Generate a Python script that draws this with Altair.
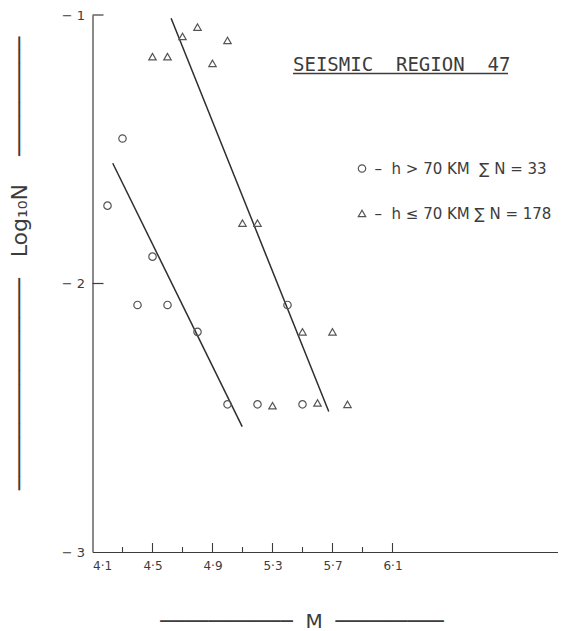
import altair as alt
import pandas as pd

NB = "\u00a0"  # non-collapsing space

# ---- data ----
deep_label = "–" + NB * 2 + "h" + NB + ">" + NB + "70" + NB + "KM" + NB * 2 + "∑" + NB + "N" + NB + "=" + NB + "33"
shallow_label = "–" + NB * 2 + "h" + NB + "≤" + NB + "70" + NB + "KM" + NB + "∑" + NB + "N" + NB + "=" + NB + "178"

deep_M = [4.2, 4.3, 4.4, 4.5, 4.6, 4.8, 5.0, 5.2, 5.4, 5.5]
deep_logN = [-1.71, -1.46, -2.08, -1.90, -2.08, -2.18, -2.45, -2.45, -2.08, -2.45]

shallow_M = [4.5, 4.6, 4.7, 4.8, 4.9, 5.0, 5.1, 5.2, 5.5, 5.7, 5.3, 5.6, 5.8]
shallow_logN = [-1.155, -1.155, -1.08, -1.045, -1.18, -1.095, -1.775, -1.775,
                -2.18, -2.18, -2.455, -2.445, -2.45]

# fitted lines (end points)
deep_fit_M = [4.235, 5.098]
deep_fit_logN = [-1.552, -2.533]
shallow_fit_M = [4.624, 5.675]
shallow_fit_logN = [-1.012, -2.477]

x_major_ticks = [4.5, 4.9, 5.3, 5.7, 6.1]
x_minor_ticks = [4.3, 4.7, 5.1, 5.5, 5.9]
x_labels = [4.1, 4.5, 4.9, 5.3, 5.7, 6.1]
y_labels = [-1, -2, -3]
y_ticks = [-1, -2]

title_text = "SEISMIC" + NB * 2 + "REGION" + NB * 2 + "47"
x_title = "─" * 11 + NB * 2 + "M" + NB * 2 + "─" * 9
y_title = "─" * 16 + NB * 3 + "Log₁₀N" + NB * 4 + "─" * 9

# ---- tables ----
pts = pd.DataFrame({
    "M": deep_M + shallow_M,
    "logN": deep_logN + shallow_logN,
    "group": [deep_label] * len(deep_M) + [shallow_label] * len(shallow_M),
})
fits = pd.DataFrame({
    "M": deep_fit_M + shallow_fit_M,
    "logN": deep_fit_logN + shallow_fit_logN,
    "group": [deep_label] * 2 + [shallow_label] * 2,
})
xmaj = pd.DataFrame({"M": x_major_ticks, "logN": [-3] * len(x_major_ticks)})
xmin = pd.DataFrame({"M": x_minor_ticks, "logN": [-3] * len(x_minor_ticks)})
ytk = pd.DataFrame({"M": [4.1] * len(y_ticks), "logN": y_ticks})

W, H = 465, 537
INK = "#3c3c3c"

xs = alt.Scale(domain=[4.1, 7.2], nice=False, zero=False)
ys = alt.Scale(domain=[-3, -1], nice=False, zero=False)

xaxis = alt.Axis(
    values=x_labels, ticks=False, grid=False, domainColor=INK, domainWidth=1.2,
    labelExpr="replace(format(datum.value, '.1f'), '.', '·')",
    labelFont="DejaVu Sans", labelFontSize=12, labelColor=INK, labelPadding=8,
    title=x_title, titleFont="DejaVu Sans", titleFontSize=20, titleFontWeight="normal",
    titleColor=INK, titleX=209, titleY=75, titleAlign="center", titleBaseline="alphabetic",
)
yaxis = alt.Axis(
    values=y_labels, ticks=False, grid=False, domainColor=INK, domainWidth=1.2,
    labelExpr="'− ' + format(abs(datum.value), 'd')",
    labelFont="DejaVu Sans", labelFontSize=13, labelColor=INK, labelPadding=8,
    title=y_title, titleFont="DejaVu Sans", titleFontSize=22, titleFontWeight="normal",
    titleColor=INK, titleX=-66, titleY=248, titleAngle=270, titleAlign="center",
    titleBaseline="alphabetic",
)

X = alt.X("M:Q", scale=xs, axis=xaxis)
Y = alt.Y("logN:Q", scale=ys, axis=yaxis)

points = alt.Chart(pts).mark_point(
    filled=False, color="#555555", strokeWidth=1.2, size=55, opacity=1
).encode(
    x=X, y=Y,
    shape=alt.Shape(
        "group:N",
        scale=alt.Scale(domain=[deep_label, shallow_label], range=["circle", "triangle-up"]),
        legend=alt.Legend(
            title=None, orient="none", legendX=262, legendY=146, padding=0,
            labelFont="DejaVu Sans", labelFontSize=15, labelColor=INK, labelLimit=0,
            labelOffset=5, rowPadding=29, symbolSize=55, symbolStrokeWidth=1.2,
            symbolStrokeColor="#555555", symbolFillColor="transparent",
        ),
    ),
)

lines = alt.Chart(fits).mark_line(color="#2e2e2e", strokeWidth=1.5).encode(
    x=X, y=Y, detail="group:N"
)

xmaj_r = alt.Chart(xmaj).mark_rule(color=INK, strokeWidth=1.1, y2Offset=-9).encode(
    x=X, y=Y, y2=alt.Y2("logN:Q")
)
xmin_r = alt.Chart(xmin).mark_rule(color=INK, strokeWidth=1.1, y2Offset=-5).encode(
    x=X, y=Y, y2=alt.Y2("logN:Q")
)
ytk_r = alt.Chart(ytk).mark_rule(color=INK, strokeWidth=1.2, x2Offset=11).encode(
    x=X, x2=alt.X2("M:Q"), y=Y
)

title_df = pd.DataFrame({"t": [title_text]})
title = alt.Chart(title_df).mark_text(
    font="DejaVu Sans Mono", fontSize=19, color=INK, align="left", baseline="alphabetic"
).encode(x=alt.value(200.5), y=alt.value(56), text="t:N")
underline = alt.Chart(title_df).mark_rule(color=INK, strokeWidth=1.5).encode(
    x=alt.value(200.5), x2=alt.value(415.5), y=alt.value(58.5)
)

chart = alt.layer(xmaj_r, xmin_r, ytk_r, lines, points, title, underline).properties(
    width=W, height=H,
    padding={"left": 84.5, "top": 7, "right": 0, "bottom": 79},
    autosize=alt.AutoSizeParams(type="none"),
    background="white",
).configure_view(stroke=None)

chart.save("out.html", embed_options={"renderer": "svg", "actions": False})
